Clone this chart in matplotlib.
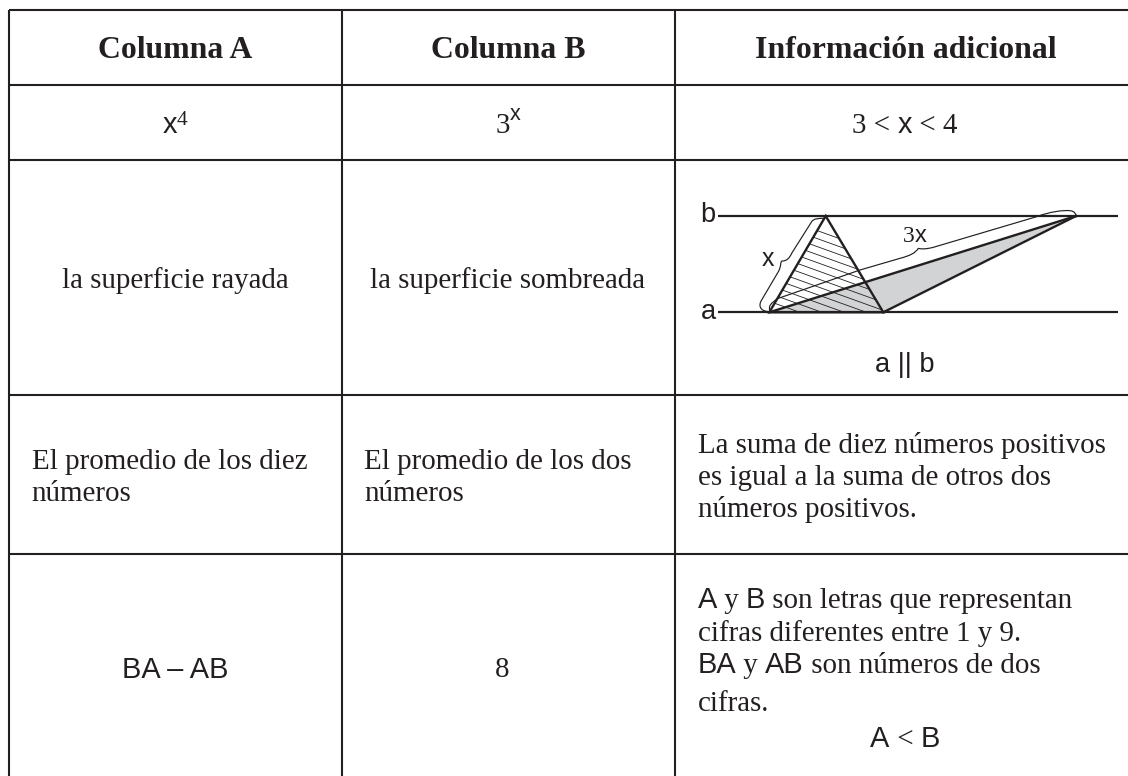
import matplotlib
matplotlib.use("Agg")
import matplotlib.pyplot as plt
from matplotlib.patches import Polygon, PathPatch
from matplotlib.path import Path

INK = "#231f20"
SERIF = "Liberation Serif"
SANS = "Liberation Sans"
S = 20.9   # body size, pt

col_x = [8.7, 341.7, 674.6]
row_y = [9.7, 84.7, 160.4, 394.6, 553.8]

headers = ["Columna A", "Columna B", "Información adicional"]
col_b_rows = ["la superficie sombreada", "8"]
col_a_row3 = ["El promedio de los diez", "números"]
col_b_row3 = ["El promedio de los dos", "números"]
col_c_row3 = ["La suma de diez números positivos", "es igual a la suma de otros dos", "números positivos."]

line_a = [(717.7, 312.3), (1118, 312.3)]
line_b = [(717.7, 216), (1118, 216)]
triangle = [(769.3, 312.3), (825.7, 216), (883.3, 312.3)]
gray_tri = [(769.3, 312.3), (883.3, 312.3), (1076, 216)]
hatch_y_left = [210, 218, 226, 234, 242, 250, 258, 266, 274, 282, 290, 298]

fig = plt.figure(figsize=(11.28, 7.76), dpi=100)
ax = fig.add_axes([0, 0, 1, 1])
ax.set_xlim(0, 1128)
ax.set_ylim(776, 0)
ax.axis("off")

renderer = fig.canvas.get_renderer()


def runs(x, y, parts, ha="left"):
    """parts: (text, family, size, dy)"""
    widths = []
    arts = []
    for p in parts:
        txt, fam, sz = p[0], p[1], p[2]
        dy = p[3] if len(p) > 3 else 0
        w = ax.text(0, y + dy, txt, family=fam, fontsize=sz, color=INK, va="baseline", ha="left")
        widths.append(w.get_window_extent(renderer).width)
        arts.append(w)
    total = sum(widths)
    cx = x - total / 2 if ha == "center" else x
    for a, wd in zip(arts, widths):
        a.set_x(cx)
        cx += wd


# grid
for yy in row_y:
    ax.plot([col_x[0], 1128], [yy, yy], color=INK, lw=1.5, solid_capstyle="butt")
for xx in col_x:
    ax.plot([xx, xx], [row_y[0], 776], color=INK, lw=1.5, solid_capstyle="butt")

# header
for cx, h in zip([175.2, 508, 906], headers):
    ax.text(cx, 58, h, family=SERIF, weight="bold", fontsize=22.9, color=INK, ha="center", va="baseline")

# row 2
runs(175.2, 133, [("x", SANS, S), ("4", SERIF, 15.5, -8)], "center")
runs(508, 133, [("3", SERIF, S), ("x", SANS, 15.5, -13)], "center")
runs(905, 133, [("3 < ", SERIF, S), ("x", SANS, S), (" < 4", SERIF, S)], "center")

# row 3
runs(175.2, 287.5, [("la superficie rayada", SERIF, S)], "center")
runs(508, 287.5, [(col_b_rows[0], SERIF, S)], "center")

ax.add_patch(Polygon(gray_tri, closed=True, fc="#d1d3d4", ec="none", zorder=1))
clip = Polygon(triangle, closed=True, transform=ax.transData, fc="none", ec="none")
ax.add_patch(clip)
for y0 in hatch_y_left:
    ln, = ax.plot([760, 900], [y0, y0 + 140 * 0.36], color=INK, lw=0.6, zorder=2)
    ln.set_clip_path(clip)
for seg in (line_a, line_b):
    ax.plot(*zip(*seg), color=INK, lw=1.6, zorder=3, solid_capstyle="butt")
ax.add_patch(Polygon(triangle, closed=True, fc="none", ec=INK, lw=1.7, zorder=4, joinstyle="miter"))
ax.plot([gray_tri[0][0], gray_tri[2][0]], [gray_tri[0][1], gray_tri[2][1]], color=INK, lw=1.7, zorder=4)
ax.plot([gray_tri[1][0], gray_tri[2][0]], [gray_tri[1][1], gray_tri[2][1]], color=INK, lw=1.7, zorder=4)


def zoomed(p):
    return (720 + p[0] / 3, 190 + p[1] / 3)


L, C = Path.LINETO, Path.CURVE4
brace_x = [((150, 365), Path.MOVETO), ((118, 365), C), ((115, 345), C), ((125, 330), C),
           ((175, 245), L), ((185, 228), C), ((180, 213), C), ((187, 213), C),
           ((200, 213), C), ((208, 205), C), ((215, 190), C), ((275, 95), L),
           ((282, 85), C), ((295, 85), C), ((315, 85), C)]
brace_3x = [((150, 362), Path.MOVETO), ((145, 350), C), ((150, 340), C), ((175, 325), C),
            ((420, 240), L), ((540, 205), L), ((570, 197), C), ((585, 190), C), ((595, 175), C),
            ((605, 178), C), ((620, 177), C), ((640, 172), C), ((950, 80), L),
            ((990, 65), C), ((1030, 60), C), ((1050, 62), C),
            ((1065, 64), C), ((1068, 72), C), ((1068, 82), C)]
for pts in (brace_x, brace_3x):
    verts = [zoomed(p) for p, _ in pts]
    codes = [c for _, c in pts]
    ax.add_patch(PathPatch(Path(verts, codes), fc="none", ec=INK, lw=0.85, zorder=5))

runs(768, 266, [("x", SANS, 18)], "center")
runs(915, 241.5, [("3", SERIF, 17), ("x", SANS, 17)], "center")
runs(700.5, 221.7, [("b", SANS, 19.6)])
runs(700.5, 319, [("a", SANS, 19.6)])
runs(905, 372, [("a || b", SANS, 19.6)], "center")

# row 4
for i, t in enumerate(col_a_row3):
    runs(31.7, 469 + i * 31.7, [(t, SERIF, S)])
for i, t in enumerate(col_b_row3):
    runs(364, 469 + i * 31.7, [(t, SERIF, S)])
for i, t in enumerate(col_c_row3):
    runs(697.5, 453.3 + i * 31.7, [(t, SERIF, S)])

# row 5
runs(175.2, 678, [("BA – AB", SANS, S)], "center")
runs(501.7, 677, [(col_b_rows[1], SERIF, S)], "center")
runs(697.5, 608, [("A", SANS, S), (" y ", SERIF, S), ("B", SANS, S), (" son letras que representan", SERIF, S)])
runs(697.5, 640.7, [("cifras diferentes entre 1 y 9.", SERIF, S)])
runs(697.5, 672.7, [("BA", SANS, S), (" y ", SERIF, S), ("AB", SANS, S), (" son números de dos", SERIF, S)])
runs(697.5, 710.7, [("cifras.", SERIF, S)])
runs(905, 747, [("A", SANS, S), (" < ", SERIF, S), ("B", SANS, S)], "center")

fig.savefig("out.png", dpi=100, facecolor="white")
